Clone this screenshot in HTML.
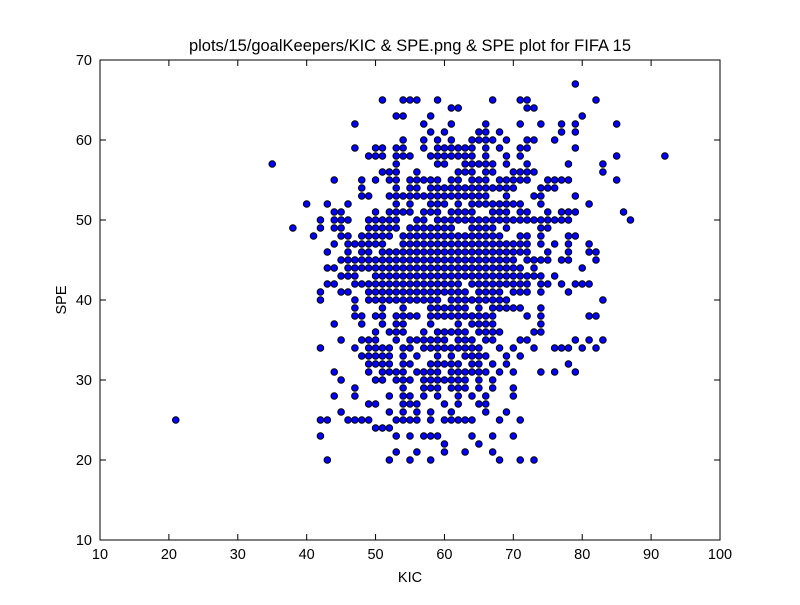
<!DOCTYPE html>
<html><head><meta charset="utf-8"><style>
html,body{margin:0;padding:0;background:#fff;}
svg text{font-family:"Liberation Sans",sans-serif;fill:#000;}
</style></head><body>
<svg id="chart" width="800" height="600" viewBox="0 0 800 600" xmlns="http://www.w3.org/2000/svg">
<rect width="800" height="600" fill="#fff"/>
<text x="410" y="51" font-size="16.5" text-anchor="middle">plots/15/goalKeepers/KIC &amp; SPE.png &amp; SPE plot for FIFA 15</text>
<g id="ticks"></g>
<g id="points"></g>
<rect x="100" y="60" width="620" height="480" fill="none" stroke="#000" stroke-width="1"/>
<text x="410" y="582" font-size="14.5" text-anchor="middle">KIC</text>
<text transform="translate(66,300) rotate(-90)" font-size="14.5" text-anchor="middle">SPE</text>
</svg>
<script>
const xTicks = [10,20,30,40,50,60,70,80,90,100];
const yTicks = [10,20,30,40,50,60,70];
const speRows = [67,65,64,63,62,61,60,59,58,57,56,55,54,53,52,51,50,49,48,47,46,45,44,43,42,41,40,39,38,37,36,35,34,33,32,31,30,29,28,27,26,25,24,23,22,21,20];
const kicRows = [
"79",
"51,54-56,59,67,71-72,82",
"61-62,72-73",
"53-54,58,80",
"47,57,61,66,71,74,77,79,85",
"58,60,65-66,68,77,79",
"54,57,59,61,64-67,69,72-73,76",
"47,50-51,53-54,57,59-64,66,68,71-72,79",
"49-51,53-55,58-64,66,69,71,85,92",
"35,53,59-60,63-67,69,72,78,83",
"51-53,56,62-64,66-67,70-73,83",
"44,48,50,52-53,55-59,61-62,64-66,68-72,75-78,85",
"48,53,55-56,58-70,74-76",
"48-49,52-66,69,73-74,79",
"40,43,46,53,55,58-60,62,64-71,74,81",
"44-45,50,52-55,57-59,61-64,67-69,71-72,75,77-79,86",
"42,44-46,49-53,56-57,59-78,87",
"38,42,44-45,49-53,55-61,64-67,69,74-75",
"41,45-46,48-52,54-58,59-68,71-72,74,78-79",
"44,46-51,54-72,74,76,78,81",
"43,46,48-49,51-72,75,78,81-82",
"45-70,72-75,77-78,82",
"43-44,46-71,73,80",
"45-47,50-70,71-74,76",
"43-44,47-62,64-71,72,74-75,77,79-81",
"42,45-46,49-63,65-68,70-72,74,78",
"42,47,49-59,61-69,83",
"47,51,54,58-63,65,67-71,74",
"47-48,50-51,53-56,58-67,72,74,81-82",
"44,48,51,53-54,58,62,64-67,74",
"50,52-54,57,59-63,65-68,73-74",
"45,48-50,53,55-60,62-64,66-67,71-72,79,81,83",
"42,47,49-52,54-55,57-65,68,70,73,76-78,80,82",
"48-52,54,56,59,61,63-66,69,71",
"49-52,54-55,58-62,64-65,67,69,78",
"44,49,51-54,56-59,61-66,68,70,74,76,79",
"45,50-51,53-55,57-63,65,67",
"47,54,57-59,61-63,65,67,70",
"44,47,52,54-55,57,59,62,64,66,70",
"49-50,54-56,60,62,65-66",
"45,52,54,56,58,61,66,69",
"21,42-43,46-49,53-56,58,60-64,68,71",
"50-52",
"42,53,55,57-59,64,67,70",
"60,65",
"53,56,60,63,67",
"43,52,55,58,68,71,73"
];
function parseRow(s){const out=[];s.split(',').forEach(p=>{const r=p.split('-').map(Number);if(r.length===2){for(let v=r[0];v<=r[1];v++)out.push(v);}else out.push(r[0]);});return out;}
const xMin=10,xMax=100,yMin=10,yMax=70,L=100,R=720,T=60,B=540;
function sx(v){return L+(v-xMin)/(xMax-xMin)*(R-L);}
function sy(v){return B-(v-yMin)/(yMax-yMin)*(B-T);}
const NS="http://www.w3.org/2000/svg";
const tg=document.getElementById('ticks');
xTicks.forEach(t=>{
 const x=sx(t);
 const l1=document.createElementNS(NS,'line');l1.setAttribute('x1',x);l1.setAttribute('x2',x);l1.setAttribute('y1',B);l1.setAttribute('y2',B-6);l1.setAttribute('stroke','#000');
 
 
 tg.appendChild(l1);
 const l2=document.createElementNS(NS,'line');l2.setAttribute('x1',x);l2.setAttribute('x2',x);l2.setAttribute('y1',T);l2.setAttribute('y2',T+6);l2.setAttribute('stroke','#000');
 
 
 tg.appendChild(l2);
 const tx=document.createElementNS(NS,'text');tx.setAttribute('x',x);tx.setAttribute('y',B+19);tx.setAttribute('font-size','14.5');tx.setAttribute('text-anchor','middle');tx.textContent=t;
 
 
 tg.appendChild(tx);
});
yTicks.forEach(t=>{
 const y=sy(t);
 const l1=document.createElementNS(NS,'line');l1.setAttribute('x1',L);l1.setAttribute('x2',L+6);l1.setAttribute('y1',y);l1.setAttribute('y2',y);l1.setAttribute('stroke','#000');
 
 
 tg.appendChild(l1);
 const l2=document.createElementNS(NS,'line');l2.setAttribute('x1',R);l2.setAttribute('x2',R-6);l2.setAttribute('y1',y);l2.setAttribute('y2',y);l2.setAttribute('stroke','#000');
 
 
 tg.appendChild(l2);
 const tx=document.createElementNS(NS,'text');tx.setAttribute('x',L-8);tx.setAttribute('y',y+5);tx.setAttribute('font-size','14.5');tx.setAttribute('text-anchor','end');tx.textContent=t;
 
 
 tg.appendChild(tx);
});
const pg=document.getElementById('points');
speRows.forEach((s,i)=>{
 parseRow(kicRows[i]).forEach(k=>{
  const c=document.createElementNS(NS,'circle');
  c.setAttribute('cx',sx(k));c.setAttribute('cy',sy(s));c.setAttribute('r','3.3');
  c.setAttribute('fill','#0000ff');c.setAttribute('stroke','#000');c.setAttribute('stroke-width','1');
  
  
  pg.appendChild(c);
 });
});
</script>
</body></html>
